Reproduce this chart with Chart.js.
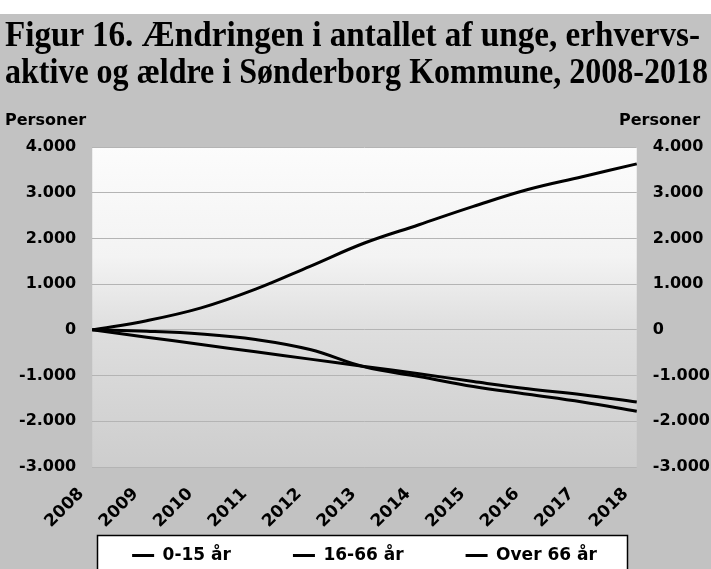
<!DOCTYPE html>
<html>
<head>
<meta charset="utf-8">
<script src="https://cdn.jsdelivr.net/npm/chart.js@4.4.1/dist/chart.umd.min.js"></script>
<style>
  html, body { margin: 0; padding: 0; background: #c2c2c2; }
  #wrap { position: relative; width: 711px; height: 569px; overflow: hidden; }
  #c { position: absolute; left: 0; top: 0; }
  #title { position: absolute; left: 0; top: 16px; width: 711px; font-family: "Liberation Serif", "Times New Roman", serif; font-weight: bold; font-size: 36px; line-height: 37px; color: #000; }
  #title div { white-space: nowrap; transform-origin: 0 0; display: inline-block; }
</style>
</head>
<body>
<div id="wrap">
  <canvas id="c" width="711" height="569"></canvas>
  <div id="title"><div id="t1" style="margin-left:5px">Figur 16. Ændringen i antallet af unge, erhvervs-</div><br><div id="t2" style="margin-left:5px">aktive og ældre i Sønderborg Kommune, 2008-2018</div></div>
</div>
<script>
// ---- data ----
const years = ["2008","2009","2010","2011","2012","2013","2014","2015","2016","2017","2018"];
const seriesNames = ["0-15 år", "16-66 år", "Over 66 år"];
const age0to15 = [0, -160, -320, -480, -640, -800, -960, -1130, -1290, -1420, -1580];
const age16to66 = [0, -30, -90, -210, -430, -810, -1020, -1240, -1410, -1580, -1780];
const age66plus = [0, 200, 480, 890, 1390, 1900, 2300, 2700, 3070, 3350, 3630];
const yTicks = [-3000, -2000, -1000, 0, 1000, 2000, 3000, 4000];
const axisTitle = "Personer";

// fit title lines to their widths
function fitLine(id, target) {
  const el = document.getElementById(id);
  const w = el.getBoundingClientRect().width;
  el.style.transform = "scaleX(" + (target / w) + ")";
}
fitLine("t1", 695);
fitLine("t2", 703);

function fmt(v) {
  const s = Math.abs(v).toString().replace(/\B(?=(\d{3})+(?!\d))/g, ".");
  return (v < 0 ? "-" : "") + s;
}

const FONT = { family: "DejaVu Sans", weight: "bold", size: 16 };
const X_FONT = { family: "DejaVu Sans", weight: "bold", size: 17 };
const LEG_FONT = { family: "DejaVu Sans", weight: "bold", size: 17 };
const LEG_H = 30;      // legend band height
const LEG_ROW = 8;     // offset of the legend row inside the band
const X_AXIS_H = 72;   // height of the x-axis label band

const bgPlugin = {
  id: "bg",
  afterInit(chart) {
    const L = chart.legend;
    if (!L) return;
    const fit0 = L.fit;
    L.fit = function () { fit0.call(this); if (this.isHorizontal()) this.height = LEG_H; };
    const draw0 = L._draw;
    L._draw = function () {
      const t = this.top;
      const p = this.options.labels.padding;
      this.top = t + LEG_ROW - p;
      draw0.call(this);
      this.top = t;
    };
  },
  beforeDraw(chart) {
    const ctx = chart.ctx;
    const a = chart.chartArea;
    ctx.save();
    ctx.fillStyle = "#ffffff";
    ctx.fillRect(0, 0, chart.width, 14);
    ctx.fillStyle = "#c2c2c2";
    ctx.fillRect(0, 14, chart.width, chart.height - 14);
    const y0 = chart.scales.y.getPixelForValue(0);
    const g = ctx.createLinearGradient(0, a.top, 0, a.bottom);
    const f0 = (y0 - a.top) / (a.bottom - a.top);
    g.addColorStop(0, "#fcfcfc");
    g.addColorStop(f0 * 0.6, "#f3f3f3");
    g.addColorStop(f0, "#dedede");
    g.addColorStop(1, "#cdcdcd");
    ctx.fillStyle = g;
    ctx.fillRect(a.left, a.top, a.right - a.left, a.bottom - a.top);
    // legend frame
    const lg = chart.legend;
    const bt = Math.round(lg.top - 4);
    ctx.fillStyle = "#ffffff";
    ctx.fillRect(97, bt, 531, chart.height);
    ctx.strokeStyle = "#000";
    ctx.lineWidth = 1.5;
    ctx.strokeRect(97.5, bt + 0.5, 530, chart.height);
    ctx.restore();
  },
  afterDraw(chart) {
    const ctx = chart.ctx;
    ctx.save();
    ctx.font = "bold 16px 'DejaVu Sans'";
    ctx.fillStyle = "#000";
    ctx.textBaseline = "alphabetic";
    ctx.textAlign = "left";
    ctx.fillText(axisTitle, 5, 125);
    ctx.fillText(axisTitle, 619, 125);
    ctx.restore();
  }
};

const mkDs = (label, data) => ({
  label, data,
  borderColor: "#000", backgroundColor: "#000",
  borderWidth: 3, pointRadius: 0, tension: 0.4, fill: false, yAxisID: "y"
});

const yTickOpts = {
  color: "#000", font: FONT, padding: 16,
  callback: (v) => fmt(v)
};

new Chart(document.getElementById("c"), {
  type: "line",
  data: {
    labels: years,
    datasets: [
      mkDs(seriesNames[0], age0to15),
      mkDs(seriesNames[1], age16to66),
      mkDs(seriesNames[2], age66plus)
    ]
  },
  options: {
    responsive: false,
    animation: false,
    devicePixelRatio: 1,
    layout: { padding: { top: 147, left: 3, right: -15, bottom: 0 } },
    scales: {
      x: {
        offset: false,
        grid: { display: false },
        border: { display: false },
        afterFit: (s) => { s.height = X_AXIS_H; },
        ticks: { color: "#000", font: X_FONT, minRotation: 45, maxRotation: 45, padding: 9, labelOffset: -11, autoSkip: false }
      },
      y: {
        position: "left",
        min: -3000, max: 4000,
        afterBuildTicks: (s) => { s.ticks = yTicks.map(v => ({ value: v })); },
        grid: { color: "#b4b4b4", lineWidth: 1, drawTicks: false },
        border: { display: false },
        ticks: yTickOpts
      },
      y2: {
        display: true,
        position: "right",
        min: -3000, max: 4000,
        afterBuildTicks: (s) => { s.ticks = yTicks.map(v => ({ value: v })); },
        grid: { display: false, drawTicks: false },
        border: { display: false },
        ticks: yTickOpts
      }
    },
    plugins: {
      title: { display: false },
      tooltip: { enabled: false },
      legend: {
        position: "bottom",
        labels: {
          color: "#000", font: LEG_FONT,
          usePointStyle: true, pointStyle: "line", pointStyleWidth: 22,
          padding: 62
        }
      }
    }
  },
  plugins: [bgPlugin]
});
</script>
</body>
</html>
